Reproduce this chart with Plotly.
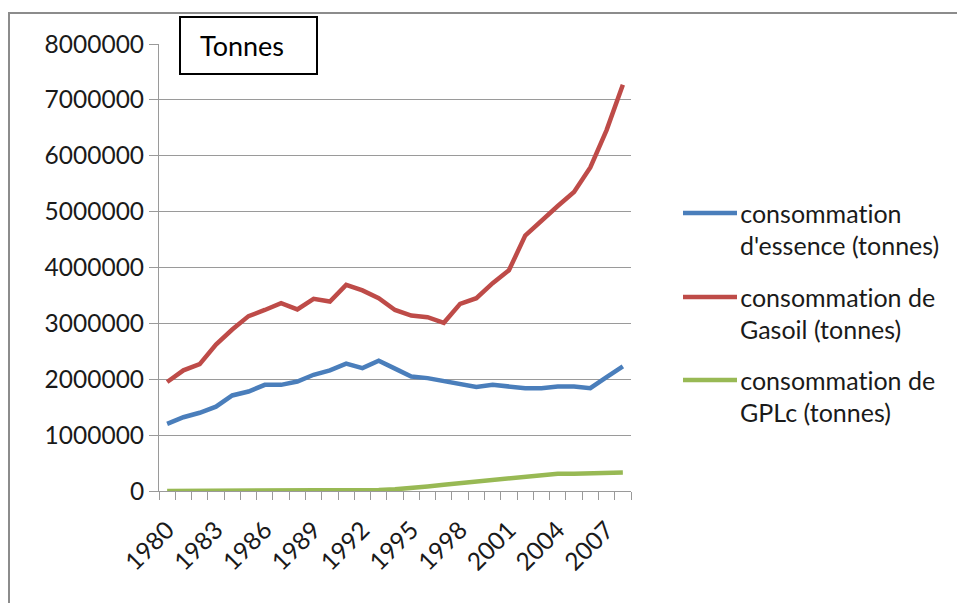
import plotly.graph_objects as go

years = list(range(1980, 2009))
essence = [1200000, 1320000, 1400000, 1510000, 1710000, 1780000, 1900000, 1900000,
           1960000, 2080000, 2160000, 2280000, 2200000, 2330000, 2190000, 2050000,
           2020000, 1970000, 1930000, 1860000, 1900000, 1870000, 1840000, 1840000,
           1870000, 1870000, 1840000, 2040000, 2230000]
gasoil = [1950000, 2160000, 2270000, 2620000, 2890000, 3130000, 3240000, 3360000,
          3250000, 3440000, 3390000, 3690000, 3590000, 3450000, 3240000, 3140000,
          3110000, 3010000, 3350000, 3450000, 3720000, 3950000, 4570000, 4840000,
          5100000, 5350000, 5790000, 6460000, 7270000]
gplc = [0, 0, 0, 0, 0, 0, 0, 0, 0, 0, 0, 0, 20000, 20000, 30000, 50000, 80000,
        110000, 140000, 170000, 190000, 220000, 260000, 290000, 310000, 310000,
        310000, 330000, 330000]

series_names = ["consommation<br>d'essence (tonnes)",
                "consommation de<br>Gasoil (tonnes)",
                "consommation de<br>GPLc (tonnes)"]
series_colors = ["#4A7EBB", "#BE4B48", "#98B954"]
unit_label = "Tonnes"

FONT = "Lato"
GRID = "#9a9a9a"
TXT = "#1a1a1a"

fig = go.Figure()
for vals, name, col in zip([essence, gasoil, gplc], series_names, series_colors):
    fig.add_trace(go.Scatter(x=years, y=vals, mode="lines", name=name,
                             line=dict(color=col, width=4.5), showlegend=False))

# plot area in pixels: x 159..631, y 44..491
W, H = 957, 603
L, R, T, B = 159, 631, 44, 491


def px(x):
    return (x - L) / (R - L)


def py(y):
    return (B - y) / (B - T)


shapes = [
    # outer chart frame
    dict(type="rect", xref="paper", yref="paper", x0=px(9), x1=px(970),
         y0=py(620), y1=py(13), line=dict(color="#8c8c8c", width=2), layer="below"),
    # unit box
    dict(type="rect", xref="paper", yref="paper", x0=px(180), x1=px(317),
         y0=py(74), y1=py(17), line=dict(color="black", width=2),
         fillcolor="white", layer="above"),
]
annotations = [
    dict(text=unit_label, xref="paper", yref="paper", x=px(198), y=py(46),
         xanchor="left", yanchor="middle", showarrow=False,
         font=dict(family=FONT, size=27, color="black")),
]

# custom legend
leg_y = [213, 297, 380]
for name, col, y0 in zip(series_names, series_colors, leg_y):
    shapes.append(dict(type="line", xref="paper", yref="paper", x0=px(683), x1=px(737),
                       y0=py(y0), y1=py(y0), line=dict(color=col, width=4.5)))
    for k, part in enumerate(name.split("<br>")):
        annotations.append(dict(text=part, xref="paper", yref="paper", x=px(738),
                                y=py(y0 + 32 * k), xanchor="left", yanchor="middle",
                                showarrow=False,
                                font=dict(family=FONT, size=25, color=TXT)))

fig.update_layout(
    width=W, height=H,
    margin=dict(l=L, r=W - R, t=T, b=H - B),
    paper_bgcolor="white", plot_bgcolor="white",
    font=dict(family=FONT, size=24.5, color=TXT),
    shapes=shapes, annotations=annotations,
)
fig.update_xaxes(
    range=[1979.5, 2008.5], tick0=1980, dtick=3, tickangle=-45,
    ticks="", showgrid=False, zeroline=False,
    showline=True, linecolor=GRID, linewidth=1,
    ticklabelstandoff=14,
    minor=dict(tick0=1979.5, dtick=1, ticks="outside", ticklen=8,
               tickcolor=GRID, showgrid=False),
)
fig.update_yaxes(
    range=[0, 8000000], dtick=1000000, tickformat="d",
    showgrid=True, gridcolor=GRID, gridwidth=1, zeroline=False,
    showline=True, linecolor=GRID, linewidth=1,
    ticks="outside", ticklen=9, tickcolor=GRID,
)

# remove page margin and the "ti" ligature of Lato
post = ("document.body.style.margin='0';"
        "document.querySelectorAll('text').forEach(function(t){"
        "t.style.fontVariantLigatures='none';t.style.fontFeatureSettings='\"liga\" 0';});")

fig.write_html("out.html", post_script=post, config={"displayModeBar": False})
